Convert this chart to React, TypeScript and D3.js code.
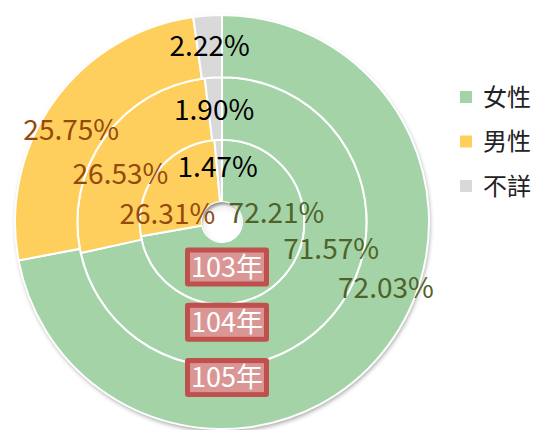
import React from 'react';
import * as d3 from 'd3';

// rings from inside out
const years = ['103年', '104年', '105年'];
const categories = ['女性', '男性', '不詳'];
const female = [72.21, 71.57, 72.03];
const male = [26.31, 26.53, 25.75];
const unknown = [1.47, 1.9, 2.22];

const colors = ['#A5D3A8', '#FFCF5E', '#D9D9D9'];
const labelColors = ['#4F6228', '#934A0C', '#000000'];

// label placement (degrees clockwise from 12 o'clock), per ring, per category
const labelAngles = [
  [81, 278, 355.5],
  [104, 295.5, 356],
  [112, 301.5, 356],
];
const labelNudge = [4, -1, 1];

const W = 535;
const H = 430;
const cx = 222;
const cy = 222;

export default function App() {
  const radius = d3.scaleLinear().domain([0, 3]).range([20, 207]);
  const pie = d3.pie<number>().sort(null).value(d => d);
  const fmt = (v: number) => v.toFixed(2) + '%';
  const font = '"Noto Sans CJK TC", "Noto Sans", sans-serif';

  const rings = years.map((y, i) => {
    const values = [female[i], male[i], unknown[i]];
    const arc = d3.arc<d3.PieArcDatum<number>>()
      .innerRadius(radius(i))
      .outerRadius(radius(i + 1));
    return { year: y, values, slices: pie(values), arc };
  });

  const polar = (deg: number, r: number) => {
    const a = (deg * Math.PI) / 180;
    return [cx + r * Math.sin(a), cy - r * Math.cos(a)];
  };

  return (
    <svg width={W} height={H} style={{ position: 'absolute', left: 0, top: 0 }}>
      <defs>
        <filter id="shadow" x="-10%" y="-10%" width="120%" height="125%">
          <feDropShadow dx="1" dy="2.5" stdDeviation="2" floodColor="#000" floodOpacity="0.35" />
        </filter>
        <radialGradient id="hole" cx="0.55" cy="0.62" r="0.6">
          <stop offset="0.6" stopColor="#ffffff" />
          <stop offset="0.85" stopColor="#f0f0f0" />
          <stop offset="1" stopColor="#9a9a9a" />
        </radialGradient>
      </defs>
      <g transform={`translate(${cx},${cy})`}>
        <circle r={radius(3)} fill="#fff" filter="url(#shadow)" />
        {rings.map(ring =>
          ring.slices.map((s, j) => (
            <path
              key={ring.year + j}
              d={ring.arc(s) as string}
              fill={colors[j]}
              stroke="#fff"
              strokeWidth={2}
            />
          ))
        )}
        <circle r={radius(0)} fill="url(#hole)" />
      </g>
      {rings.map((ring, i) =>
        ring.values.map((v, j) => {
          const [x, y] = polar(labelAngles[i][j], (radius(i) + radius(i + 1)) / 2 + labelNudge[i]);
          return (
            <text
              key={'l' + i + j}
              x={x}
              y={y}
              dy="0.36em"
              textAnchor="middle"
              fontFamily={font}
              fontSize={28}
              fill={labelColors[j]}
            >
              {fmt(v)}
            </text>
          );
        })
      )}
      {years.map((y, i) => {
        const yc = cy + radius(0) + 25 + i * 55.3;
        return (
          <g key={y} transform={`translate(${cx + 5},${yc})`}>
            <rect x={-42} y={-19.5} width={84} height={39} rx={3} fill="#C0504D" />
            <rect x={-37} y={-14.5} width={74} height={29} fill="#DA9694" />
            <text
              dy="0.36em"
              textAnchor="middle"
              fontFamily={font}
              fontSize={27}
              fill="#fff"
            >
              {y}
            </text>
          </g>
        );
      })}
      {categories.map((c, j) => (
        <g key={c} transform={`translate(460,${97 + j * 44.5})`}>
          <rect x={0} y={-6} width={12} height={12} fill={colors[j]} />
          <text x={23} dy="0.36em" fontFamily={font} fontSize={24} fill="#222">
            {c}
          </text>
        </g>
      ))}
    </svg>
  );
}
